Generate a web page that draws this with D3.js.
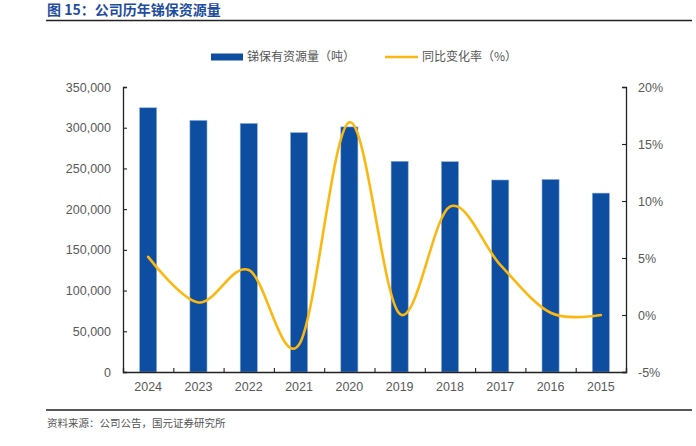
<!DOCTYPE html>
<html>
<head>
<meta charset="utf-8">
<script src="https://cdn.jsdelivr.net/npm/d3@7/dist/d3.min.js"></script>
<style>
body{margin:0;background:#fff;}
svg text{font-family:"Liberation Sans",Arial,"Noto Sans CJK SC",sans-serif;}
.cjk{font-family:"Noto Sans CJK SC",sans-serif;}
</style>
</head>
<body>
<svg id="chart" width="696" height="446"></svg>
<script>
const years = ["2024","2023","2022","2021","2020","2019","2018","2017","2016","2015"];
const reserves = [324500, 309000, 305300, 294000, 301000, 258800, 258300, 235800, 236500, 219700];
const yoy = [5.1, 1.1, 3.95, -2.6, 16.9, 0.1, 9.5, 4.4, 0.2, 0.0];
const leftTicks = [0, 50000, 100000, 150000, 200000, 250000, 300000, 350000];
const rightTicks = [-5, 0, 5, 10, 15, 20];

const svg = d3.select("#chart");
const L = 123, R = 626, T = 87, B = 372;

const x = d3.scaleBand().domain(years).range([L, R]).paddingInner(0.66).paddingOuter(0.33);
const yL = d3.scaleLinear().domain([0, 350000]).range([B, T]);
const yR = d3.scaleLinear().domain([-5, 20]).range([B, T]);

// title
svg.append("text").attr("class","cjk").attr("x",47).attr("y",15)
  .attr("fill","#1F4E9E").attr("font-size",14).attr("font-weight","bold")
  .style("font-family","'Noto Sans CJK SC',sans-serif")
  .text("图 15：公司历年锑保资源量");
svg.append("line").attr("x1",46).attr("x2",692).attr("y1",20.5).attr("y2",20.5)
  .attr("stroke","#222").attr("stroke-width",1.6);
svg.append("line").attr("x1",46).attr("x2",692).attr("y1",410).attr("y2",410)
  .attr("stroke","#222").attr("stroke-width",1.6);
svg.append("text").attr("x",47).attr("y",427).attr("fill","#555").attr("font-size",10.5)
  .style("font-family","'Noto Sans CJK SC',sans-serif")
  .text("资料来源：公司公告，国元证券研究所");

// legend
svg.append("rect").attr("x",211).attr("y",53.5).attr("width",32).attr("height",7).attr("fill","#0D4EA1");
svg.append("text").attr("x",247).attr("y",61).attr("fill","#555").attr("font-size",12)
  .style("font-family","'Noto Sans CJK SC',sans-serif").text("锑保有资源量（吨）");
svg.append("line").attr("x1",385).attr("x2",418).attr("y1",57).attr("y2",57)
  .attr("stroke","#FBB811").attr("stroke-width",2.5);
svg.append("text").attr("x",422).attr("y",61).attr("fill","#555").attr("font-size",12)
  .style("font-family","'Noto Sans CJK SC',sans-serif").text("同比变化率（%）");

// bars
svg.append("g").selectAll("rect").data(years).join("rect")
  .attr("x", d => x(d)).attr("width", x.bandwidth())
  .attr("y", (d,i) => yL(reserves[i])).attr("height", (d,i) => B - yL(reserves[i]))
  .attr("fill","#0D4EA1").attr("stroke","#8FB0DA").attr("stroke-width",0.6);

// line
const line = d3.line()
  .x((d,i) => x(years[i]) + x.bandwidth()/2)
  .y(d => yR(d))
  .curve(d3.curveCardinal.tension(0));
svg.append("path").datum(yoy).attr("d", line).attr("fill","none")
  .attr("stroke","#FBB811").attr("stroke-width",2.6).attr("stroke-linecap","round");

// axes
const axisColor = "#222";
const gL = svg.append("g").attr("transform",`translate(${L},0)`)
  .call(d3.axisRight(yL).tickValues(leftTicks).tickSize(4).tickFormat(d3.format(",")));
gL.selectAll("text").attr("x",-12).attr("text-anchor","end");
const gR = svg.append("g").attr("transform",`translate(${R},0)`)
  .call(d3.axisLeft(yR).tickValues(rightTicks).tickSize(4).tickFormat(d => d + "%"));
gR.selectAll("text").attr("x",12).attr("text-anchor","start");
const xb = d3.scaleLinear().domain([0, years.length]).range([L, R]);
const gX = svg.append("g").attr("transform",`translate(0,${B})`)
  .call(d3.axisTop(xb).tickValues(d3.range(0, years.length + 1)).tickSize(4).tickFormat(""));
const gXL = svg.append("g").attr("transform",`translate(0,${B})`)
  .call(d3.axisBottom(x).tickSize(0).tickPadding(10));
gXL.select(".domain").remove();

[gL, gR, gX].forEach(g => {
  g.select(".domain").attr("stroke", axisColor).attr("stroke-width",1.3);
  g.selectAll(".tick line").attr("stroke", axisColor).attr("stroke-width",1.1);
});
[gL, gR, gXL].forEach(g => {
  g.selectAll("text").attr("fill","#595959").attr("font-size",12.5)
    .style("font-family","'Liberation Sans',Arial,sans-serif");
});
</script>
</body>
</html>
